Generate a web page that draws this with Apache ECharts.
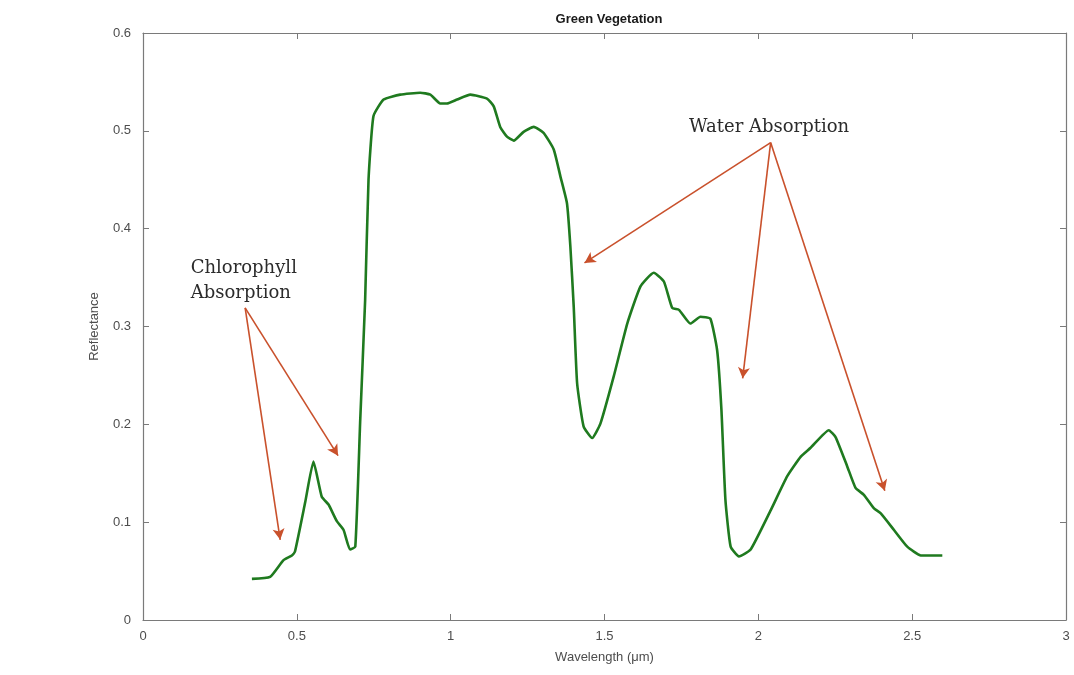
<!DOCTYPE html>
<html>
<head>
<meta charset="utf-8">
<script src="https://cdn.jsdelivr.net/npm/echarts@6/dist/echarts.min.js"></script>
<style>html,body{margin:0;padding:0;background:#fff}#c{width:1074px;height:675px}</style>
</head>
<body>
<div id="c"></div>
<script>
const wavelength = [0.354,0.413,0.456,0.484,0.494,0.527,0.554,0.581,0.603,0.630,0.652,0.673,0.690,0.706,0.722,0.733,0.749,0.782,0.836,0.901,0.934,0.966,0.988,1.021,1.064,1.118,1.140,1.161,1.183,1.205,1.237,1.270,1.302,1.335,1.357,1.378,1.389,1.400,1.411,1.432,1.460,1.487,1.530,1.574,1.617,1.660,1.693,1.720,1.742,1.779,1.812,1.844,1.866,1.880,1.893,1.910,1.937,1.975,2.040,2.094,2.138,2.170,2.229,2.251,2.289,2.316,2.343,2.376,2.398,2.441,2.484,2.528,2.560,2.598];
const reflectance = [0.042,0.044,0.061,0.066,0.070,0.120,0.162,0.126,0.118,0.101,0.092,0.072,0.075,0.204,0.327,0.450,0.515,0.532,0.537,0.539,0.537,0.528,0.528,0.532,0.537,0.533,0.525,0.504,0.494,0.490,0.499,0.504,0.498,0.481,0.453,0.426,0.382,0.320,0.242,0.198,0.186,0.201,0.249,0.303,0.341,0.355,0.346,0.319,0.317,0.303,0.310,0.308,0.276,0.215,0.123,0.075,0.065,0.072,0.112,0.147,0.167,0.176,0.194,0.187,0.157,0.135,0.128,0.114,0.109,0.092,0.075,0.066,0.066,0.066];
const xTicks = [0,0.5,1,1.5,2,2.5,3];
const yTicks = [0,0.1,0.2,0.3,0.4,0.5,0.6];
const chlorophyllArrows = [[[0.332,0.319],[0.446,0.082]],[[0.332,0.319],[0.634,0.168]]];
const waterArrows = [[[2.040,0.488],[1.435,0.365]],[[2.040,0.488],[1.949,0.247]],[[2.040,0.488],[2.411,0.132]]];
const labels = [{text:'Chlorophyll\nAbsorption', at:[0.155,0.347]},{text:'Water Absorption', at:[1.775,0.504]}];

const chart = echarts.init(document.getElementById('c'));
const axisColor = '#7a7a7a';
const lblStyle = {color:'#4d4d4d', fontSize:13, fontFamily:'Liberation Sans, Arial'};
const arrowStyle = {color:'#c9512c', width:1.6, type:'solid'};
const pairs = wavelength.map((w,i)=>[w,reflectance[i]]);
const arrows = chlorophyllArrows.concat(waterArrows).map(a=>[{coord:a[0]},{coord:a[1]}]);
const boxAxis = (extra)=>Object.assign({type:'value',
    axisLine:{show:true,onZero:false,lineStyle:{color:axisColor,width:1.2}},
    axisTick:{show:true,inside:true,length:6,lineStyle:{color:axisColor}},
    splitLine:{show:false}}, extra);
chart.setOption({
  animation:false,
  title:{text:'Green Vegetation', left:604, top:8, textAlign:'center',
    textStyle:{fontSize:13, fontWeight:'bold', color:'#1a1a1a', fontFamily:'Liberation Sans, Arial'}},
  grid:{left:143, right:8, top:33, bottom:55},
  xAxis:[boxAxis({position:'bottom', min:xTicks[0], max:xTicks[xTicks.length-1], interval:0.5,
    name:'Wavelength (μm)', nameLocation:'middle', nameGap:31, nameTextStyle:lblStyle,
    axisLabel:{...lblStyle, margin:10}}),
   boxAxis({position:'top', min:xTicks[0], max:xTicks[xTicks.length-1], interval:0.5, axisLabel:{show:false}})],
  yAxis:[boxAxis({position:'left', min:yTicks[0], max:yTicks[yTicks.length-1], interval:0.1,
    name:'Reflectance', nameLocation:'middle', nameGap:42, nameTextStyle:lblStyle,
    axisLabel:{...lblStyle, margin:12}}),
   boxAxis({position:'right', min:yTicks[0], max:yTicks[yTicks.length-1], interval:0.1, axisLabel:{show:false}})],
  series:[{
    type:'line', data:pairs, showSymbol:false, smooth:0.15,
    lineStyle:{color:'#1f7a1f', width:2.6},
    markLine:{silent:true, symbol:['none','arrow'], symbolSize:[9,11], lineStyle:arrowStyle,
      label:{show:false}, data:arrows},
    markPoint:{silent:true, symbol:'circle', symbolSize:0,
      data:labels.map(l=>({coord:l.at, value:l.text})),
      label:{show:true, position:'right', distance:0, formatter:p=>p.value, color:'#2b2b2b',
        fontFamily:'DejaVu Serif', fontSize:18, lineHeight:25, align:'left'}}
  }]
});
</script>
</body>
</html>
